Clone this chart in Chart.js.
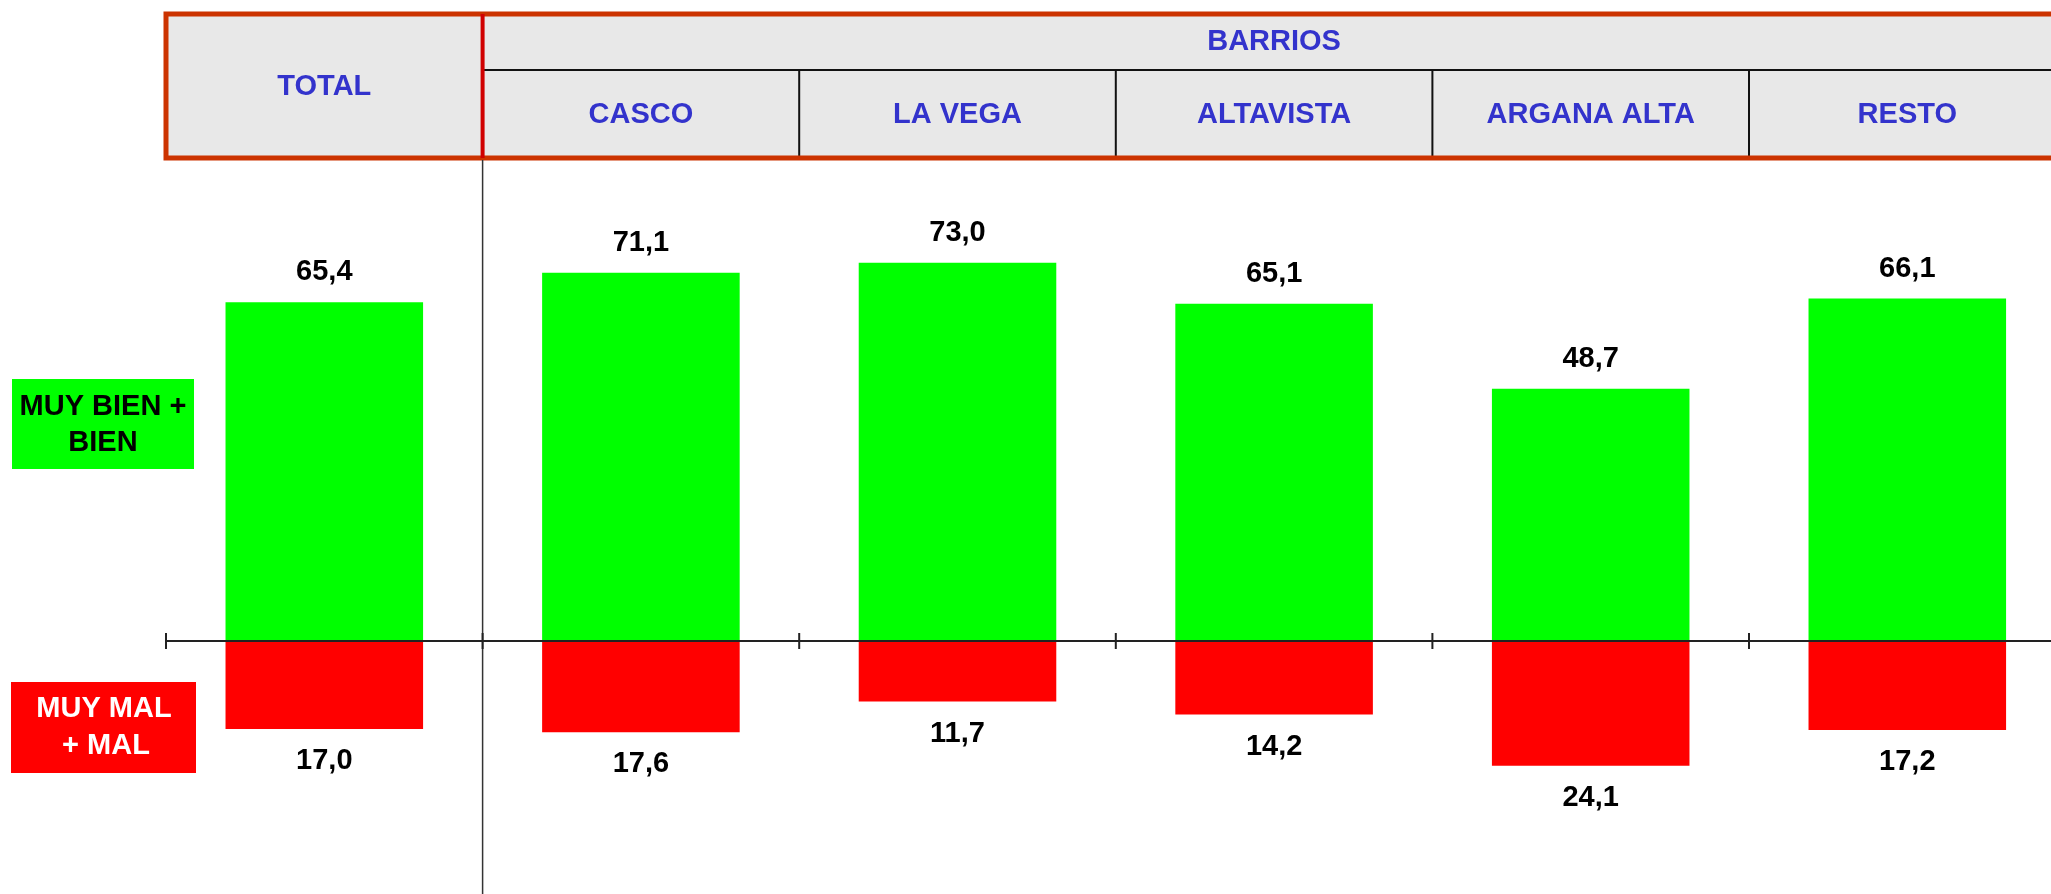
<!DOCTYPE html>
<html lang="es">
<head>
  <meta charset="UTF-8">
  <title>Valoración por barrios</title>
  <script src="https://cdn.jsdelivr.net/npm/chart.js"></script>
  <style>
    html, body { margin: 0; padding: 0; overflow: hidden; background: #fff; }
    #wrap { position: relative; width: 2080px; height: 894px; }
  </style>
</head>
<body>
  <div id="wrap"><canvas id="chart"></canvas></div>

  <script>
    // datos del gráfico
    const categories = ['TOTAL', 'CASCO', 'LA VEGA', 'ALTAVISTA', 'ARGANA ALTA', 'RESTO'];
    const groupLabel = 'BARRIOS';
    const positiveValues = [65.4, 71.1, 73.0, 65.1, 48.7, 66.1];   // muy bien + bien
    const negativeValues = [17.0, 17.6, 11.7, 14.2, 24.1, 17.2];   // muy mal + mal
    const positiveLabel = ['MUY BIEN +', 'BIEN'];
    const negativeLabel = ['MUY MAL', '+ MAL'];

    const FONT = 'bold 29px "Liberation Sans", Arial, sans-serif';
    const fmt = v => v.toFixed(1).replace('.', ',');

    // cabecera, leyenda lateral, eje y etiquetas
    const decor = {
      id: 'decor',
      beforeDraw(chart) {
        const ctx = chart.ctx, x = chart.scales.x;
        const half = (x.getPixelForValue(1) - x.getPixelForValue(0)) / 2;
        const left = x.getPixelForValue(0) - half;
        const div = x.getPixelForValue(0) + half;
        const end = x.getPixelForValue(categories.length - 1) + half;
        const right = chart.width + 20;
        const top = 14, mid = 70, bot = 158;
        ctx.save();
        ctx.fillStyle = '#e8e8e8';
        ctx.fillRect(left, top, right - left, bot - top);

        ctx.strokeStyle = '#111';
        ctx.lineWidth = 2;
        ctx.beginPath();
        ctx.moveTo(div, mid); ctx.lineTo(right, mid);
        for (let i = 1; i < categories.length - 1; i++) {
          const bx = x.getPixelForValue(i) + half;
          ctx.moveTo(bx, mid); ctx.lineTo(bx, bot);
        }
        ctx.stroke();

        ctx.strokeStyle = '#cc3300';
        ctx.lineWidth = 5;
        ctx.strokeRect(left, top, right - left, bot - top);
        ctx.strokeStyle = '#d00000';
        ctx.lineWidth = 4;
        ctx.beginPath(); ctx.moveTo(div, top); ctx.lineTo(div, bot); ctx.stroke();

        ctx.fillStyle = '#3333cc';
        ctx.font = FONT;
        ctx.textAlign = 'center';
        ctx.textBaseline = 'middle';
        ctx.fillText(categories[0], x.getPixelForValue(0), 87);
        ctx.fillText(groupLabel, (div + end) / 2, 42);
        for (let i = 1; i < categories.length; i++) ctx.fillText(categories[i], x.getPixelForValue(i), 115);

        // línea vertical bajo TOTAL
        ctx.strokeStyle = '#333';
        ctx.lineWidth = 1.5;
        ctx.beginPath(); ctx.moveTo(div, bot + 2); ctx.lineTo(div, chart.height); ctx.stroke();

        // cajas de leyenda
        ctx.fillStyle = '#00ff00';
        ctx.fillRect(12, 379, 182, 90);
        ctx.fillStyle = '#000';
        ctx.fillText(positiveLabel[0], 103, 407);
        ctx.fillText(positiveLabel[1], 103, 443);
        ctx.fillStyle = '#ff0000';
        ctx.fillRect(11, 682, 185, 91);
        ctx.fillStyle = '#fff';
        ctx.fillText(negativeLabel[0], 104, 709);
        ctx.fillText(negativeLabel[1], 106, 746);
        ctx.restore();
      },
      afterDatasetsDraw(chart) {
        const ctx = chart.ctx, x = chart.scales.x, y = chart.scales.y;
        const half = (x.getPixelForValue(1) - x.getPixelForValue(0)) / 2;
        const y0 = y.getPixelForValue(0);
        ctx.save();
        ctx.strokeStyle = '#222';
        ctx.lineWidth = 2;
        ctx.beginPath();
        ctx.moveTo(x.getPixelForValue(0) - half, y0); ctx.lineTo(chart.width, y0);
        for (let i = 0; i <= categories.length; i++) {
          const bx = x.getPixelForValue(i) - half;
          ctx.moveTo(bx, y0 - 8); ctx.lineTo(bx, y0 + 8);
        }
        ctx.stroke();

        ctx.fillStyle = '#000';
        ctx.font = FONT;
        ctx.textAlign = 'center';
        ctx.textBaseline = 'middle';
        chart.getDatasetMeta(0).data.forEach((bar, i) => ctx.fillText(fmt(positiveValues[i]), bar.x, bar.y - 30));
        chart.getDatasetMeta(1).data.forEach((bar, i) => ctx.fillText(fmt(negativeValues[i]), bar.x, bar.y + 32));
        ctx.restore();
      }
    };

    new Chart(document.getElementById('chart'), {
      type: 'bar',
      data: {
        labels: categories,
        datasets: [
          { data: positiveValues, backgroundColor: '#00ff00', barPercentage: 0.624, categoryPercentage: 1 },
          { data: negativeValues.map(v => -v), backgroundColor: '#ff0000', barPercentage: 0.624, categoryPercentage: 1 }
        ]
      },
      options: {
        responsive: true,
        maintainAspectRatio: false,
        animation: false,
        layout: { padding: { left: 166, right: 14.4, top: 123, bottom: 1.8 } },
        plugins: { legend: { display: false }, tooltip: { enabled: false } },
        scales: {
          x: { display: false, stacked: true, offset: true },
          y: { display: false, stacked: true, min: -48.5, max: 100 }
        }
      },
      plugins: [decor]
    });
  </script>
</body>
</html>
